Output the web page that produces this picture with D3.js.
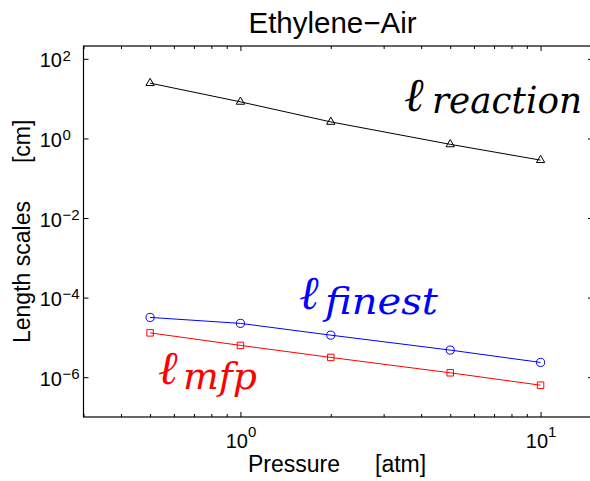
<!DOCTYPE html>
<html>
<head>
<meta charset="utf-8">
<script src="https://cdn.jsdelivr.net/npm/d3@7"></script>
<style>
  body { margin: 0; background: #fff; }
  svg { display: block; }
  text { font-family: "Liberation Sans", Arial, Helvetica, sans-serif; }
</style>
</head>
<body>
<script>
let w = 590;
let h = 481;

// data
let pressure = [0.5, 1, 2, 5, 10];
let lReaction = [24.5, 8.3, 2.6, 0.71, 0.285];
let lFinest = [3.18e-5, 2.25e-5, 1.14e-5, 4.8e-6, 2.35e-6];
let lMfp = [1.3e-5, 6.3e-6, 3.14e-6, 1.29e-6, 6.3e-7];

let xMajor = [1, 10];
let xMinor = [0.3, 0.4, 0.5, 0.6, 0.7, 0.8, 0.9, 2, 3, 4, 5, 6, 7, 8, 9];
let yMajor = [1e2, 1e0, 1e-2, 1e-4, 1e-6];
let xDomain = [0.3, 15.3];
let yDomain = [1e-7, 210];

let padLeft = 83.5, padRight = 596, padTop = 46, padBottom = 417;

let xScale = d3.scaleLog().domain(xDomain).range([padLeft, padRight]);
let yScale = d3.scaleLog().domain(yDomain).range([padBottom, padTop]);

let svg = d3.select("body")
  .append("svg")
  .attr("width", w)
  .attr("height", h);

// axis frame
svg.append("rect")
  .attr("x", padLeft)
  .attr("y", padTop)
  .attr("width", padRight - padLeft)
  .attr("height", padBottom - padTop)
  .attr("fill", "none")
  .attr("stroke", "#000")
  .attr("stroke-width", 1.2);

// ticks (inward, like matlab)
function styleTicks(g) {
  g.select(".domain").remove();
  g.selectAll(".tick line").attr("stroke", "#000").attr("stroke-width", 1);
}

svg.append("g")
  .attr("transform", "translate(0," + padBottom + ")")
  .call(d3.axisBottom(xScale).tickValues(xMinor).tickSize(-3).tickFormat(""))
  .call(styleTicks);
svg.append("g")
  .attr("transform", "translate(0," + padTop + ")")
  .call(d3.axisTop(xScale).tickValues(xMinor).tickSize(-3).tickFormat(""))
  .call(styleTicks);
svg.append("g")
  .attr("transform", "translate(0," + padTop + ")")
  .call(d3.axisTop(xScale).tickValues(xMajor).tickSize(-5).tickFormat(""))
  .call(styleTicks);

let xAxis = svg.append("g")
  .attr("id", "x-axis")
  .attr("transform", "translate(0," + padBottom + ")")
  .call(d3.axisBottom(xScale).tickValues(xMajor).tickSize(-5).tickFormat(""))
  .call(styleTicks);

xAxis.selectAll(".tick").each(function(d) {
  let t = d3.select(this).append("text")
    .attr("x", 0)
    .attr("y", 31)
    .attr("fill", "#000")
    .attr("text-anchor", "middle")
    .style("font-size", "20px");
  t.append("tspan").text("10");
  t.append("tspan")
    .attr("dy", -11)
    .style("font-size", "15px")
    .text(Math.round(Math.log10(d)));
});

let yAxis = svg.append("g")
  .attr("id", "y-axis")
  .attr("transform", "translate(" + padLeft + ",0)")
  .call(d3.axisLeft(yScale).tickValues(yMajor).tickSize(-5).tickFormat(""))
  .call(styleTicks);

yAxis.selectAll(".tick").each(function(d) {
  let e = Math.round(Math.log10(d));
  let g = d3.select(this);
  g.append("text")
    .attr("x", -21.5)
    .attr("y", 8)
    .attr("fill", "#000")
    .attr("text-anchor", "end")
    .style("font-size", "20px")
    .text("10");
  g.append("text")
    .attr("x", -21)
    .attr("y", 1.3)
    .attr("fill", "#000")
    .attr("text-anchor", "start")
    .style("font-size", "15px")
    .text(e < 0 ? "\u2212" + (-e) : e);
});

// the right axis sits just past the picture edge, its ticks peek in
svg.append("g")
  .attr("transform", "translate(" + padRight + ",0)")
  .call(d3.axisRight(yScale).tickValues(yMajor).tickSize(-8).tickFormat(""))
  .call(styleTicks);

// series
let series = [
  { values: lReaction, color: "#000", symbol: d3.symbolTriangle, size: 30 },
  { values: lFinest, color: "#0000ff", symbol: d3.symbolCircle, size: 52 },
  { values: lMfp, color: "#ff0000", symbol: d3.symbolSquare, size: 42 }
];

let line = d3.line()
  .x(d => xScale(d[0]))
  .y(d => yScale(d[1]));

series.forEach(function(s) {
  let pts = pressure.map((p, i) => [p, s.values[i]]);
  svg.append("path")
    .datum(pts)
    .attr("d", line)
    .attr("fill", "none")
    .attr("stroke", s.color)
    .attr("stroke-width", 1);
  svg.selectAll(null)
    .data(pts)
    .enter()
    .append("path")
    .attr("transform", d => "translate(" + xScale(d[0]) + "," + yScale(d[1]) + ")")
    .attr("d", d3.symbol().type(s.symbol).size(s.size))
    .attr("fill", "none")
    .attr("stroke", s.color)
    .attr("stroke-width", 1);
});

// math labels: script l with an italic subscript
function mathLabel(x, y, sub, subX, subY, subLen, color) {
  svg.append("text")
    .attr("x", x)
    .attr("y", y)
    .attr("fill", color)
    .style("font-family", "'DejaVu Serif', serif")
    .style("font-style", "italic")
    .style("font-size", "47px")
    .text("\u2113");
  svg.append("text")
    .attr("x", subX)
    .attr("y", subY)
    .attr("fill", color)
    .attr("textLength", subLen)
    .attr("lengthAdjust", "spacingAndGlyphs")
    .style("font-family", "'DejaVu Serif', serif")
    .style("font-style", "italic")
    .style("font-size", "38px")
    .text(sub);
}
mathLabel(404, 111, "reaction", 432, 113, 150, "#000");
mathLabel(299, 309, "finest", 325, 314, 113, "#0000ff");
mathLabel(158, 384, "mfp", 183, 389, 74, "#ff0000");

// title and axis labels
svg.append("text")
  .attr("x", 332.5)
  .attr("y", 33)
  .attr("text-anchor", "middle")
  .style("font-size", "29.5px")
  .text("Ethylene\u2212Air");

let xl = svg.append("text")
  .attr("x", 248)
  .attr("y", 471.5)
  .style("font-size", "23px");
xl.append("tspan").text("Pressure");
xl.append("tspan").attr("dx", 35).text("[atm]");

let yl = svg.append("text")
  .attr("transform", "translate(30,343) rotate(-90)")
  .style("font-size", "23px");
yl.append("tspan").text("Length scales");
yl.append("tspan").attr("dx", 38).text("[cm]");
</script>
</body>
</html>
